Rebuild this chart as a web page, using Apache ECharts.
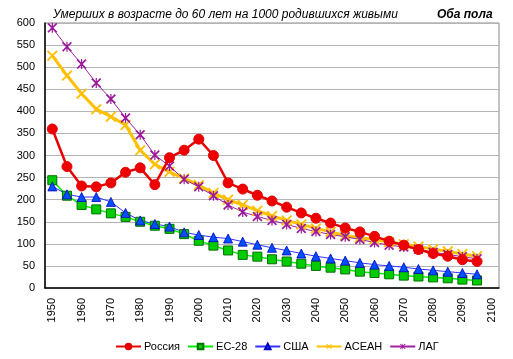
<!DOCTYPE html>
<html><head><meta charset="utf-8">
<script src="https://cdn.jsdelivr.net/npm/echarts@6/dist/echarts.min.js"></script>
<style>html,body{margin:0;padding:0;background:#fff}#c{width:513px;height:359px}</style>
</head><body><div id="c"></div>
<script>
const years = [];
for (let y = 1950; y <= 2100; y += 5) years.push(String(y));
const russia = [360,275,231,229,238,262,272,234,295,312,337,300,238,224,210,197,183,170,158,147,136,127,117,106,97,87,78,72,64,60];
const eu28 = [244,209,188,178,169,161,150,141,134,122,107,96,85,75,71,65,60,55,50,46,42,37,34,31,28,26,24,22,19,17];
const usa = [230,212,206,206,195,170,153,145,139,126,120,115,112,105,98,91,85,78,72,67,62,57,53,50,47,43,40,37,34,31];
const asean = [526,481,440,405,388,369,312,280,263,248,233,215,200,188,175,163,153,144,135,127,119,114,110,104,99,94,88,83,77,72];
const lag = [589,546,507,464,428,385,347,301,276,246,229,209,188,172,162,153,144,135,128,121,116,110,103,97,93,88,81,76,71,66];
const yTicks = ['0','50','100','150','200','250','300','350','400','450','500','550','600'];
const names = ['Россия','ЕС-28','США','АСЕАН','ЛАГ'];

const xPath = 'path://M0,1.2 L1.2,0 L10,8.8 L8.8,10 Z M8.8,0 L10,1.2 L1.2,10 L0,8.8 Z';
const starPath = 'path://M0,1.2 L1.2,0 L10,8.8 L8.8,10 Z M8.8,0 L10,1.2 L1.2,10 L0,8.8 Z M4.4,0 L5.6,0 L5.6,10 L4.4,10 Z';

const chart = echarts.init(document.getElementById('c'), null, {renderer:'canvas'});
const font = 'Liberation Sans, Arial, sans-serif';
chart.setOption({
  animation:false,
  textStyle:{fontFamily:font},
  title:[
    {text:'Умерших в возрасте до 60 лет на 1000 родившихся живыми', left:48, top:4,
     textStyle:{fontFamily:font,fontSize:12,fontStyle:'italic',fontWeight:'normal',color:'#000'}},
    {text:'Оба пола', left:432, top:4,
     textStyle:{fontFamily:font,fontSize:12,fontStyle:'italic',fontWeight:'bold',color:'#000'}}
  ],
  grid:{left:45,right:14,top:23,bottom:71,show:true,borderColor:'#888',borderWidth:1,containLabel:false},
  legend:{
    top:336, left:110, itemWidth:25, itemHeight:7, itemGap:7,
    textStyle:{fontFamily:font,fontSize:11,color:'#000',padding:[0,0,0,-2]},
    data:names
  },
  xAxis:{
    type:'category', data:years, boundaryGap:true,
    axisLine:{lineStyle:{color:'#000',width:1.5}},
    axisTick:{show:false},
    axisLabel:{rotate:90, interval:1, color:'#000', fontSize:11, fontFamily:font, margin:10}
  },
  yAxis:{
    type:'value', min:0, max:600, interval:50,
    axisLine:{show:true,lineStyle:{color:'#000',width:1.5}},
    axisTick:{show:false},
    axisLabel:{color:'#000',fontSize:11,fontFamily:font,margin:10,formatter:(v)=>yTicks[v/50]},
    splitLine:{lineStyle:{color:'#b4b4b4',width:1}}
  },
  series:[
    {name:names[0],type:'line',data:russia,symbol:'circle',symbolSize:10,showAllSymbol:true,
     lineStyle:{color:'#e80000',width:2.5},itemStyle:{color:'#ee0000',borderColor:'#e00000',borderWidth:1},z:5},
    {name:names[1],type:'line',data:eu28,symbol:'rect',symbolSize:9,showAllSymbol:true,
     lineStyle:{color:'#00ee00',width:1.5},itemStyle:{color:'#00cc00',borderColor:'#007000',borderWidth:1},z:3},
    {name:names[2],type:'line',data:usa,symbol:'triangle',symbolSize:9,showAllSymbol:true,
     lineStyle:{color:'#3333ff',width:1},itemStyle:{color:'#0050ff',borderColor:'#0000c0',borderWidth:0.8},z:3},
    {name:names[3],type:'line',data:asean,symbol:xPath,symbolSize:11,showAllSymbol:true,
     lineStyle:{color:'#ffc000',width:3},itemStyle:{color:'#ffc000'},z:4},
    {name:names[4],type:'line',data:lag,symbol:starPath,symbolSize:10,showAllSymbol:true,
     lineStyle:{color:'#a020a0',width:1},itemStyle:{color:'#9a1a9a'},z:4}
  ]
});
</script></body></html>
